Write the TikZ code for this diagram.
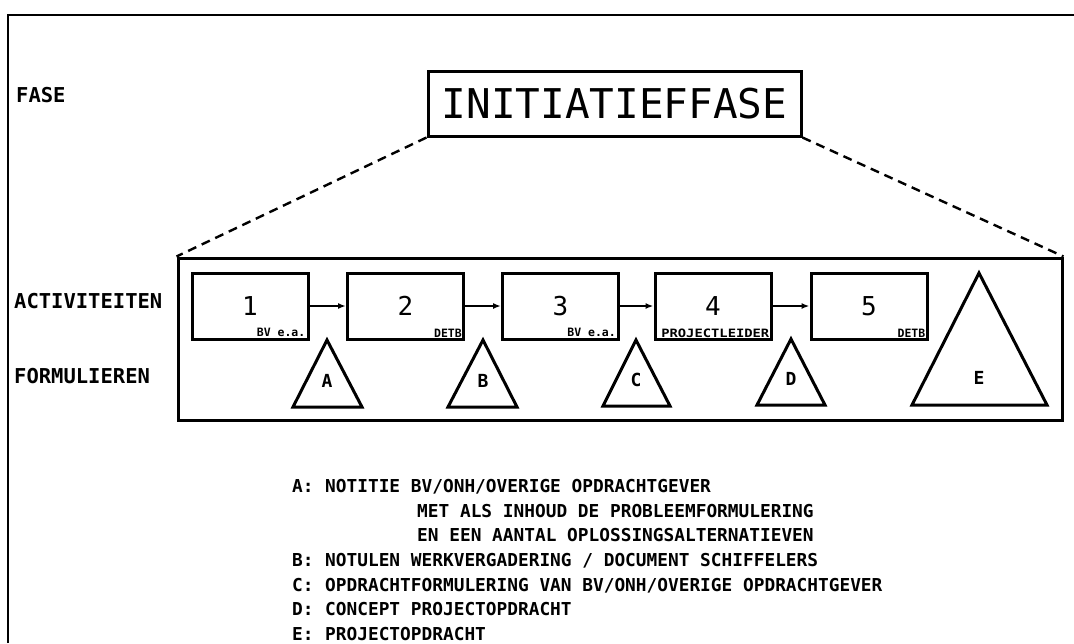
\documentclass[tikz,border=0pt]{standalone}
\usepackage{fontspec}
\usepackage{graphicx}
\newfontfamily\pf{DejaVu Sans Mono}
\usetikzlibrary{arrows.meta}
\tikzset{
  frameline/.style={line width=2.6pt},
  phasebox/.style={draw, line width=3pt, minimum width=373pt, minimum height=65pt, inner sep=0pt, font=\pf\fontsize{41}{41}\selectfont},
  groupbox/.style={draw, line width=3pt, minimum width=884pt, minimum height=162pt, inner sep=0pt},
  actbox/.style={draw, line width=3pt, minimum width=116pt, minimum height=66pt, inner sep=0pt, font=\pf\fontsize{26}{26}\selectfont},
  tag/.style={font=\pf\bfseries\fontsize{11.5}{11.5}\selectfont, inner sep=0pt, anchor=south east},
  tri/.style={draw, line width=3pt, line join=miter},
  letter/.style={font=\pf\bfseries\fontsize{18}{18}\selectfont, inner sep=0pt},
  side/.style={font=\pf\bfseries\fontsize{20.5}{20.5}\selectfont, anchor=base west, inner sep=0pt},
  leg/.style={font=\pf\bfseries\fontsize{17.8}{17.8}\selectfont, anchor=base west, inner sep=0pt},
  flow/.style={-{Latex[length=8pt,width=6pt]}, line width=2pt},
  fan/.style={dash pattern=on 9pt off 6pt, line width=2.4pt}
}
\begin{document}
\begin{tikzpicture}[x=1pt,y=-1pt]
\useasboundingbox (0,0) rectangle (1074,643);
% outer frame (open at right and bottom)
\draw[frameline] (8,643) -- (8,15) -- (1074,15);

% side labels
\node[side] (lfase) at (16,102) {FASE};
\node[side] (lact) at (14,308) {ACTIVITEITEN};
\node[side] (lform) at (14,383) {FORMULIEREN};

% phase box
\node[phasebox] (phase) at (614.5,103.5) {INITIATIEFFASE};

% group box
\node[groupbox] (group) at (620,339) {};
\draw[fan] (phase.south west) -- (group.north west);
\draw[fan] (phase.south east) -- (group.north east);

% activity boxes
\node[actbox] (b1) at (250,306) {1};
\node[actbox] (b2) at (405.5,306) {2};
\node[actbox] (b3) at (560.5,306) {3};
\node[actbox] (b4) at (713,306) {4};
\node[actbox] (b5) at (869,306) {5};

\node[tag] (t1) at ([shift={(-4,-4)}]b1.south east) {BV e.a.};
\node[tag] (t2) at ([shift={(-3,-3)}]b2.south east) {DETB};
\node[tag] (t3) at ([shift={(-4,-4)}]b3.south east) {BV e.a.};
\node[tag] (t4) at ([shift={(-3,-3)}]b4.south east) {\scalebox{1.2}[1]{PROJECTLEIDER}};
\node[tag] (t5) at ([shift={(-3,-3)}]b5.south east) {DETB};

\draw[flow] (b1.east) -- (b2.west);
\draw[flow] (b2.east) -- (b3.west);
\draw[flow] (b3.east) -- (b4.west);
\draw[flow] (b4.east) -- (b5.west);

% triangles
\draw[tri] (327,340) coordinate (ta) -- (362,407) -- (293,407) -- cycle;
\node[letter] (la) at (327,381) {A};
\draw[tri] (483,340) coordinate (tb) -- (517,407) -- (448,407) -- cycle;
\node[letter] (lb) at (483,381) {B};
\draw[tri] (636,340) coordinate (tc) -- (670,406) -- (603,406) -- cycle;
\node[letter] (lc) at (636,380) {C};
\draw[tri] (791,339) coordinate (td) -- (825,405) -- (757,405) -- cycle;
\node[letter] (ld) at (791,379) {D};
\draw[tri] (979,273) coordinate (te) -- (1047,405) -- (912,405) -- cycle;
\node[letter] (le) at (979,378) {E};

% legend
\node[leg] (ka) at (292,492) {A:};
\node[leg] (xa) at (325,492) {NOTITIE BV/ONH/OVERIGE OPDRACHTGEVER};
\node[leg] (xa2) at (417,517) {MET ALS INHOUD DE PROBLEEMFORMULERING};
\node[leg] (xa3) at (417,541) {EN EEN AANTAL OPLOSSINGSALTERNATIEVEN};
\node[leg] (kb) at (292,566) {B:};
\node[leg] (xb) at (325,566) {NOTULEN WERKVERGADERING / DOCUMENT SCHIFFELERS};
\node[leg] (kc) at (292,591) {C:};
\node[leg] (xc) at (325,591) {OPDRACHTFORMULERING VAN BV/ONH/OVERIGE OPDRACHTGEVER};
\node[leg] (kd) at (292,615) {D:};
\node[leg] (xd) at (325,615) {CONCEPT PROJECTOPDRACHT};
\node[leg] (ke) at (292,640) {E:};
\node[leg] (xe) at (325,640) {PROJECTOPDRACHT};
\end{tikzpicture}
\end{document}
